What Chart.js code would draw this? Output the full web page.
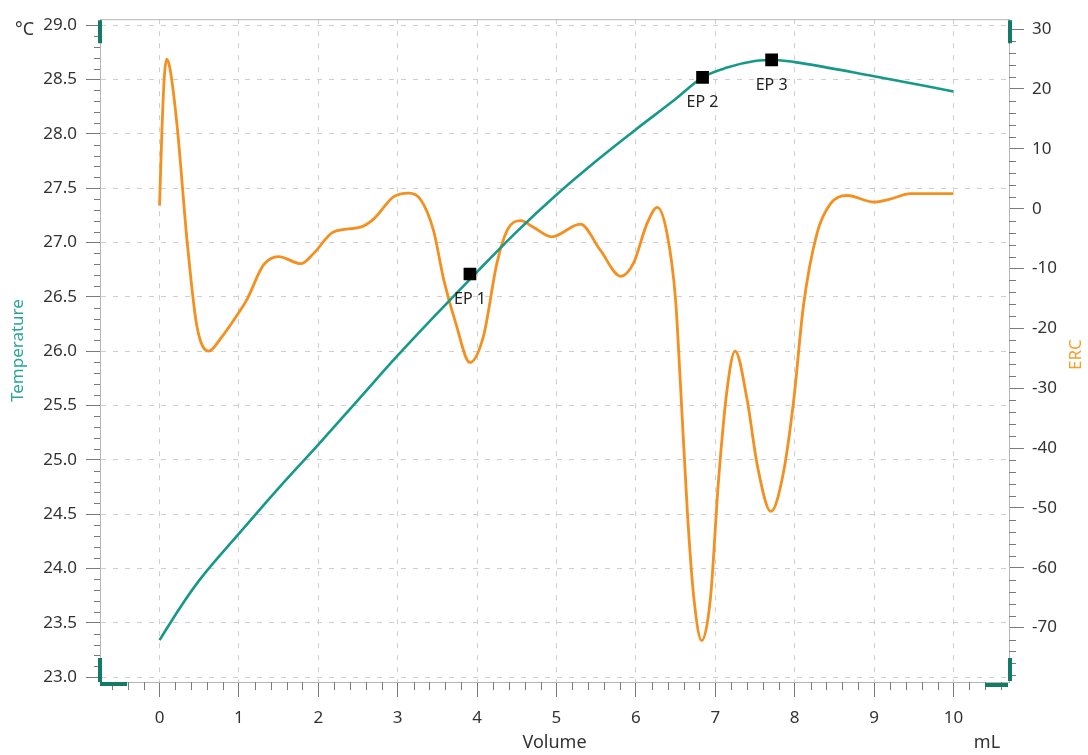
<!DOCTYPE html>
<html>
<head>
<meta charset="utf-8">
<script src="https://cdn.jsdelivr.net/npm/chart.js@4/dist/chart.umd.min.js"></script>
<style>
  html, body { margin: 0; padding: 0; background: #fff; }
  #wrap { width: 1088px; height: 755px; position: relative; }
</style>
</head>
<body>
<div id="wrap"><canvas id="grafico"></canvas></div>
<script>
// Datos
const tempVolume = [0, 0.25, 0.5, 1.0, 1.5, 2.0, 2.5, 3.0, 3.5, 4.0, 4.5, 5.0, 5.5, 6.0, 6.5, 6.84, 7.15, 7.5, 7.75, 8.0, 9.0, 10.0];
const tempValues = [23.34, 23.63, 23.89, 24.32, 24.74, 25.14, 25.55, 25.96, 26.35, 26.73, 27.10, 27.44, 27.75, 28.04, 28.32, 28.52, 28.61, 28.67, 28.68, 28.66, 28.53, 28.39];

const ercVolume = [0, 0.03, 0.06, 0.09, 0.13, 0.22, 0.35, 0.47, 0.62, 0.78, 0.94, 1.10, 1.31, 1.50, 1.78, 1.94, 2.19, 2.53, 2.70, 2.95, 3.14, 3.29,
  3.45, 3.58, 3.73, 3.91, 4.08, 4.25, 4.38, 4.55, 4.71, 4.94, 5.30, 5.55, 5.81, 5.97, 6.14, 6.27, 6.39, 6.50, 6.56, 6.65, 6.73, 6.83,
  6.94, 7.04, 7.15, 7.25, 7.40, 7.53, 7.70, 7.86, 7.99, 8.11, 8.28, 8.45, 8.66, 9.0, 9.2, 9.46, 10.0];
const ercValues = [0.5, 13, 22, 25, 23.5, 14, -5.8, -19.6, -23.8, -21.5, -18.5, -15.2, -9.4, -8.0, -9.2, -7.5, -3.9, -3.1, -1.7, 2.0, 2.6, 1.5,
  -3.6, -11.9, -19.1, -25.7, -21.3, -9.1, -3.6, -2.0, -3.1, -4.7, -2.6, -6.9, -11.3, -9.1, -2.5, 0.2, -4.0, -15.2, -29, -51, -65, -72.2,
  -65, -45.6, -30.1, -23.8, -31.8, -42.9, -50.6, -44, -31.8, -16.3, -4.2, 0.8, 2.2, 1.1, 1.6, 2.5, 2.5];

const epVolume = [3.91, 6.84, 7.71];
const epTemp = [26.71, 28.52, 28.68];
const epLabels = ["EP 1", "EP 2", "EP 3"];

const volumeTicks = [0, 1, 2, 3, 4, 5, 6, 7, 8, 9, 10];
const tempTicks = [23.0, 23.5, 24.0, 24.5, 25.0, 25.5, 26.0, 26.5, 27.0, 27.5, 28.0, 28.5, 29.0];
const ercTicks = [30, 20, 10, 0, -10, -20, -30, -40, -50, -60, -70];

const tealColor = "#17998a";
const orangeColor = "#f39020";
const fontFamily = "'Noto Sans', 'Open Sans', sans-serif";
const gridColor = "#cfcfcf";
const tickColor = "#7a7a7a";

// Marcas menores, títulos y detalles del marco
const extras = {
  id: "extras",
  afterDraw(chart) {
    const { ctx, chartArea: a, scales } = chart;
    const x = scales.x, yT = scales.yT, yE = scales.yE;
    ctx.save();

    // marco superior
    ctx.strokeStyle = "#b5b5b5";
    ctx.lineWidth = 1;
    ctx.beginPath();
    ctx.moveTo(a.left, a.top + 0.5);
    ctx.lineTo(a.right, a.top + 0.5);
    ctx.stroke();

    // marcas menores
    ctx.strokeStyle = tickColor;
    ctx.beginPath();
    for (let i = -3; i <= 53; i++) {
      if (i % 5 === 0) continue;
      const px = Math.round(x.getPixelForValue(i / 5)) + 0.5;
      ctx.moveTo(px, a.bottom);
      ctx.lineTo(px, a.bottom + 8);
    }
    for (let i = 231; i <= 289; i++) {
      if (i % 5 === 0) continue;
      const py = Math.round(yT.getPixelForValue(i / 10)) + 0.5;
      ctx.moveTo(a.left - 6, py);
      ctx.lineTo(a.left, py);
    }
    for (let v = -78; v <= 30; v += 2) {
      if (v % 10 === 0) continue;
      const py = Math.round(yE.getPixelForValue(v)) + 0.5;
      ctx.moveTo(a.right, py);
      ctx.lineTo(a.right + 7, py);
    }
    ctx.stroke();

    // asas de las esquinas
    ctx.strokeStyle = "#137a68";
    ctx.lineWidth = 4;
    ctx.beginPath();
    ctx.moveTo(a.left, a.top + 1); ctx.lineTo(a.left, a.top + 24);
    ctx.moveTo(a.right + 1, a.top + 1); ctx.lineTo(a.right + 1, a.top + 24);
    ctx.moveTo(a.left, a.bottom - 24); ctx.lineTo(a.left, a.bottom);
    ctx.moveTo(a.left, a.bottom + 2); ctx.lineTo(a.left + 27, a.bottom + 2);
    ctx.moveTo(a.right + 1, a.bottom - 24); ctx.lineTo(a.right + 1, a.bottom - 1);
    ctx.moveTo(a.right - 24, a.bottom + 3); ctx.lineTo(a.right - 1, a.bottom + 3);
    ctx.stroke();

    // etiquetas de puntos finales
    ctx.fillStyle = "#222";
    ctx.font = "16px " + fontFamily;
    ctx.textAlign = "center";
    ctx.textBaseline = "middle";
    epVolume.forEach((v, i) => {
      ctx.fillText(epLabels[i], x.getPixelForValue(v), yT.getPixelForValue(epTemp[i]) + 25);
    });

    // títulos de ejes
    ctx.font = "18px " + fontFamily;
    ctx.fillStyle = "#333";
    ctx.textAlign = "left";
    ctx.fillText("°C", 15, 30);
    ctx.textAlign = "center";
    ctx.fillText("Volume", (a.left + a.right) / 2, 743);
    ctx.fillText("mL", 987, 743);

    ctx.font = "17px " + fontFamily;
    ctx.fillStyle = "#2aa596";
    ctx.translate(18, (a.top + a.bottom) / 2);
    ctx.rotate(-Math.PI / 2);
    ctx.fillText("Temperature", 0, 0);
    ctx.setTransform(1, 0, 0, 1, 0, 0);
    ctx.scale(chart.currentDevicePixelRatio, chart.currentDevicePixelRatio);
    ctx.fillStyle = "#f5a02a";
    ctx.translate(1076, (a.top + a.bottom) / 2 + 4);
    ctx.rotate(-Math.PI / 2);
    ctx.fillText("ERC", 0, 0);
    ctx.restore();
  }
};

const ctx = document.getElementById("grafico").getContext("2d");

window.grafico = new Chart(ctx, {
  type: "line",
  data: {
    datasets: [
      {
        label: "EP",
        data: epVolume.map((v, i) => ({ x: v, y: epTemp[i] })),
        yAxisID: "yT",
        showLine: false,
        pointStyle: "rect",
        pointRadius: 9,
        pointBackgroundColor: "#000",
        pointBorderWidth: 0,
        order: 0
      },
      {
        label: "Temperature",
        data: tempVolume.map((v, i) => ({ x: v, y: tempValues[i] })),
        yAxisID: "yT",
        borderColor: tealColor,
        borderWidth: 2.6,
        pointRadius: 0,
        cubicInterpolationMode: "monotone",
        order: 1
      },
      {
        label: "ERC",
        data: ercVolume.map((v, i) => ({ x: v, y: ercValues[i] })),
        yAxisID: "yE",
        borderColor: orangeColor,
        borderWidth: 2.8,
        pointRadius: 0,
        cubicInterpolationMode: "monotone",
        order: 2
      }
    ]
  },
  options: {
    responsive: true,
    maintainAspectRatio: false,
    animation: false,
    layout: { padding: { top: 14, left: 0, right: 0, bottom: 0 } },
    plugins: {
      legend: { display: false },
      tooltip: { enabled: false }
    },
    scales: {
      x: {
        type: "linear",
        position: "bottom",
        min: -0.75,
        max: 10.7,
        afterFit: (s) => { s.height = 73; },
        afterBuildTicks: (s) => { s.ticks = volumeTicks.map((v) => ({ value: v })); },
        ticks: { color: "#333", font: { family: fontFamily, size: 17 }, padding: 11, maxRotation: 0 },
        grid: { color: gridColor, tickColor: tickColor, tickLength: 15 },
        border: { color: "#b5b5b5", dash: [5, 7] }
      },
      yT: {
        type: "linear",
        position: "left",
        min: 22.955,
        max: 29.055,
        afterFit: (s) => { s.width = 100; },
        afterBuildTicks: (s) => { s.ticks = tempTicks.map((v) => ({ value: v })); },
        ticks: {
          color: "#333",
          font: { family: fontFamily, size: 17 },
          padding: 9,
          callback: (v) => Number(v).toFixed(1)
        },
        grid: { color: gridColor, tickColor: tickColor, tickLength: 14 },
        border: { color: "#b5b5b5", dash: [5, 7] }
      },
      yE: {
        type: "linear",
        position: "right",
        min: -79.1,
        max: 31.66,
        afterFit: (s) => { s.width = 79; },
        afterBuildTicks: (s) => { s.ticks = ercTicks.map((v) => ({ value: v })); },
        ticks: { color: "#333", font: { family: fontFamily, size: 17 }, padding: 8 },
        grid: { drawOnChartArea: false, tickColor: tickColor, tickLength: 15 },
        border: { color: "#b5b5b5" }
      }
    }
  },
  plugins: [extras]
});
</script>
</body>
</html>
